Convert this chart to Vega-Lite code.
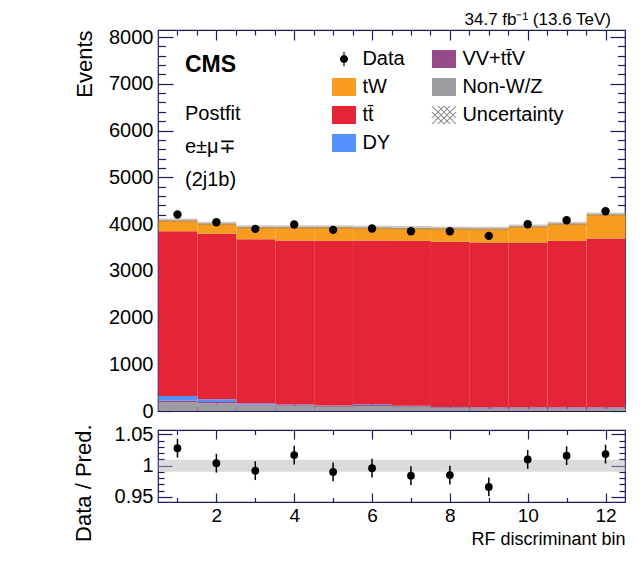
{
  "$schema": "https://vega.github.io/schema/vega-lite/v6.json",
  "background": "white",
  "padding": {"left": 71, "top": 10, "right": 10, "bottom": 5},
  "autosize": {"type": "pad"},
  "config": {
    "font": "Liberation Sans",
    "view": {"stroke": "#1a1a66", "strokeWidth": 1.2},
    "axis": {"grid": false, "domain": false, "ticks": true, "tickColor": "#1a1a66", "tickWidth": 1.2, "labelColor": "black", "titleColor": "black", "titleFontWeight": "normal", "labelFlush": false, "labelOverlap": false, "zindex": 1, "labelFont": "Liberation Sans", "titleFont": "Liberation Sans"}
  },
  "datasets": {
    "stack": [
      {"bin": 1, "proc": "Non-W/Z", "k": 1, "v": 195}, {"bin": 1, "proc": "VV+tt\u0304V", "k": 2, "v": 30}, {"bin": 1, "proc": "DY", "k": 3, "v": 95}, {"bin": 1, "proc": "tt\u0304", "k": 4, "v": 3526}, {"bin": 1, "proc": "tW", "k": 5, "v": 235},
      {"bin": 2, "proc": "Non-W/Z", "k": 1, "v": 165}, {"bin": 2, "proc": "VV+tt\u0304V", "k": 2, "v": 25}, {"bin": 2, "proc": "DY", "k": 3, "v": 60}, {"bin": 2, "proc": "tt\u0304", "k": 4, "v": 3539}, {"bin": 2, "proc": "tW", "k": 5, "v": 221},
      {"bin": 3, "proc": "Non-W/Z", "k": 1, "v": 120}, {"bin": 3, "proc": "VV+tt\u0304V", "k": 2, "v": 20}, {"bin": 3, "proc": "DY", "k": 3, "v": 25}, {"bin": 3, "proc": "tt\u0304", "k": 4, "v": 3510}, {"bin": 3, "proc": "tW", "k": 5, "v": 260},
      {"bin": 4, "proc": "Non-W/Z", "k": 1, "v": 107}, {"bin": 4, "proc": "VV+tt\u0304V", "k": 2, "v": 18}, {"bin": 4, "proc": "DY", "k": 3, "v": 15}, {"bin": 4, "proc": "tt\u0304", "k": 4, "v": 3507}, {"bin": 4, "proc": "tW", "k": 5, "v": 288},
      {"bin": 5, "proc": "Non-W/Z", "k": 1, "v": 90}, {"bin": 5, "proc": "VV+tt\u0304V", "k": 2, "v": 15}, {"bin": 5, "proc": "DY", "k": 3, "v": 12}, {"bin": 5, "proc": "tt\u0304", "k": 4, "v": 3523}, {"bin": 5, "proc": "tW", "k": 5, "v": 295},
      {"bin": 6, "proc": "Non-W/Z", "k": 1, "v": 107}, {"bin": 6, "proc": "VV+tt\u0304V", "k": 2, "v": 20}, {"bin": 6, "proc": "DY", "k": 3, "v": 16}, {"bin": 6, "proc": "tt\u0304", "k": 4, "v": 3504}, {"bin": 6, "proc": "tW", "k": 5, "v": 278},
      {"bin": 7, "proc": "Non-W/Z", "k": 1, "v": 85}, {"bin": 7, "proc": "VV+tt\u0304V", "k": 2, "v": 18}, {"bin": 7, "proc": "DY", "k": 3, "v": 10}, {"bin": 7, "proc": "tt\u0304", "k": 4, "v": 3527}, {"bin": 7, "proc": "tW", "k": 5, "v": 277},
      {"bin": 8, "proc": "Non-W/Z", "k": 1, "v": 64}, {"bin": 8, "proc": "VV+tt\u0304V", "k": 2, "v": 16}, {"bin": 8, "proc": "DY", "k": 3, "v": 7}, {"bin": 8, "proc": "tt\u0304", "k": 4, "v": 3531}, {"bin": 8, "proc": "tW", "k": 5, "v": 292},
      {"bin": 9, "proc": "Non-W/Z", "k": 1, "v": 55}, {"bin": 9, "proc": "VV+tt\u0304V", "k": 2, "v": 20}, {"bin": 9, "proc": "DY", "k": 3, "v": 5}, {"bin": 9, "proc": "tt\u0304", "k": 4, "v": 3524}, {"bin": 9, "proc": "tW", "k": 5, "v": 299},
      {"bin": 10, "proc": "Non-W/Z", "k": 1, "v": 55}, {"bin": 10, "proc": "VV+tt\u0304V", "k": 2, "v": 20}, {"bin": 10, "proc": "DY", "k": 3, "v": 5}, {"bin": 10, "proc": "tt\u0304", "k": 4, "v": 3524}, {"bin": 10, "proc": "tW", "k": 5, "v": 349},
      {"bin": 11, "proc": "Non-W/Z", "k": 1, "v": 55}, {"bin": 11, "proc": "VV+tt\u0304V", "k": 2, "v": 20}, {"bin": 11, "proc": "DY", "k": 3, "v": 5}, {"bin": 11, "proc": "tt\u0304", "k": 4, "v": 3560}, {"bin": 11, "proc": "tW", "k": 5, "v": 370},
      {"bin": 12, "proc": "Non-W/Z", "k": 1, "v": 55}, {"bin": 12, "proc": "VV+tt\u0304V", "k": 2, "v": 22}, {"bin": 12, "proc": "DY", "k": 3, "v": 5}, {"bin": 12, "proc": "tt\u0304", "k": 4, "v": 3607}, {"bin": 12, "proc": "tW", "k": 5, "v": 520}
    ],
    "bins": [
      {"bin": 1, "n": 4203, "nlo": 4138, "nhi": 4268, "plo": 4043, "phi": 4119, "r": 1.028, "rlo": 1.013, "rhi": 1.043, "ulo": 0.9905, "uhi": 1.0095},
      {"bin": 2, "n": 4038, "nlo": 3974, "nhi": 4102, "plo": 3972, "phi": 4048, "r": 1.004, "rlo": 0.989, "rhi": 1.019, "ulo": 0.9905, "uhi": 1.0095},
      {"bin": 3, "n": 3896, "nlo": 3834, "nhi": 3958, "plo": 3897, "phi": 3973, "r": 0.992, "rlo": 0.977, "rhi": 1.007, "ulo": 0.9905, "uhi": 1.0095},
      {"bin": 4, "n": 3989, "nlo": 3926, "nhi": 4052, "plo": 3897, "phi": 3973, "r": 1.017, "rlo": 1.002, "rhi": 1.032, "ulo": 0.9905, "uhi": 1.0095},
      {"bin": 5, "n": 3875, "nlo": 3813, "nhi": 3937, "plo": 3897, "phi": 3973, "r": 0.990, "rlo": 0.975, "rhi": 1.005, "ulo": 0.9905, "uhi": 1.0095},
      {"bin": 6, "n": 3903, "nlo": 3841, "nhi": 3965, "plo": 3887, "phi": 3963, "r": 0.996, "rlo": 0.981, "rhi": 1.011, "ulo": 0.9905, "uhi": 1.0095},
      {"bin": 7, "n": 3846, "nlo": 3784, "nhi": 3908, "plo": 3879, "phi": 3955, "r": 0.984, "rlo": 0.969, "rhi": 0.999, "ulo": 0.9905, "uhi": 1.0095},
      {"bin": 8, "n": 3846, "nlo": 3784, "nhi": 3908, "plo": 3872, "phi": 3948, "r": 0.985, "rlo": 0.970, "rhi": 1.000, "ulo": 0.9905, "uhi": 1.0095},
      {"bin": 9, "n": 3746, "nlo": 3685, "nhi": 3807, "plo": 3865, "phi": 3941, "r": 0.966, "rlo": 0.951, "rhi": 0.981, "ulo": 0.9905, "uhi": 1.0095},
      {"bin": 10, "n": 3996, "nlo": 3933, "nhi": 4059, "plo": 3915, "phi": 3991, "r": 1.010, "rlo": 0.995, "rhi": 1.025, "ulo": 0.9905, "uhi": 1.0095},
      {"bin": 11, "n": 4081, "nlo": 4017, "nhi": 4145, "plo": 3972, "phi": 4048, "r": 1.016, "rlo": 1.001, "rhi": 1.031, "ulo": 0.9905, "uhi": 1.0095},
      {"bin": 12, "n": 4274, "nlo": 4209, "nhi": 4339, "plo": 4171, "phi": 4247, "r": 1.0185, "rlo": 1.0035, "rhi": 1.0335, "ulo": 0.9905, "uhi": 1.0095}
    ]
  },
  "title": {
    "text": "CMS",
    "subtitle": ["Postfit", "\u2002e\u00b1\u03bc\u2213", "(2j1b)"],
    "anchor": "start", "frame": "group", "orient": "top",
    "offset": -180, "dx": 27, "zindex": 1,
    "fontSize": 23, "fontWeight": "bold", "color": "black", "font": "Liberation Sans",
    "subtitleFontSize": 20, "subtitleColor": "black", "subtitleFont": "Liberation Sans",
    "subtitlePadding": 27, "subtitleLineHeight": 33
  },
  "bounds": "flush",
  "spacing": 19,
  "resolve": {"legend": {"color": "independent", "shape": "independent", "fill": "independent"}, "scale": {"color": "independent", "shape": "independent", "fill": "independent"}},
  "vconcat": [
    {
      "width": 467,
      "height": 381,
      "view": {"stroke": "#1a1a66", "strokeWidth": 1.2},
      "title": {"text": "34.7 fb\u207b\u00b9 (13.6 TeV)", "anchor": "end", "frame": "group", "offset": -2, "dx": -14, "fontSize": 17, "fontWeight": "normal", "color": "black", "font": "Liberation Sans"},
      "resolve": {"axis": {"x": "independent", "y": "independent"}},
      "layer": [
        {
          "data": {"name": "stack"},
          "mark": {"type": "bar", "binSpacing": 0},
          "encoding": {
            "x": {"field": "bin", "type": "quantitative", "bin": {"extent": [0.5, 12.5], "step": 1, "nice": false}, "scale": {"domain": [0.5, 12.5], "nice": false, "zero": false}, "axis": null},
            "y": {"field": "v", "type": "quantitative", "stack": "zero", "scale": {"domain": [0, 8150], "nice": false}, "axis": null},
            "fill": {
              "field": "proc", "type": "nominal",
              "scale": {"domain": ["VV+tt\u0304V", "tW", "Non-W/Z", "tt\u0304", "DY"], "range": ["#964a8b", "#f89c20", "#9c9ca1", "#e42536", "#5790fc"]},
              "legend": null
            },
            "order": {"field": "k", "type": "quantitative"}
          }
        },
        {
          "data": {"name": "stack"},
          "transform": [{"filter": "datum.bin < 0"}],
          "mark": {"type": "point", "filled": true, "opacity": 1},
          "encoding": {
            "x": {"field": "bin", "type": "quantitative", "scale": {"domain": [0.5, 12.5], "nice": false, "zero": false}, "axis": null},
            "y": {"field": "v", "type": "quantitative", "axis": null},
            "color": {
              "field": "proc", "type": "nominal",
              "scale": {"domain": ["Data", "VV+tt\u0304V", "tW", "Non-W/Z", "tt\u0304", "Uncertainty", "DY"], "range": ["#000000", "#964a8b", "#f89c20", "#9c9ca1", "#e42536", "#8c8c8c", "#5790fc"]},
              "legend": {
                "orient": "none", "legendX": 176, "legendY": 19, "title": null,
                "columns": 2, "direction": "horizontal", "gridAlign": "each",
                "columnPadding": 26, "rowPadding": 8, "padding": 0,
                "symbolSize": 324, "symbolStrokeWidth": 0, "symbolOpacity": 1,
                "labelFontSize": 20, "labelFont": "Liberation Sans", "labelColor": "black", "labelOffset": 8.4, "labelLimit": 300
              }
            },
            "shape": {
              "field": "proc", "type": "nominal",
              "scale": {"domain": ["Data", "VV+tt\u0304V", "tW", "Non-W/Z", "tt\u0304", "Uncertainty", "DY"], "range": [
                "M-0.45,0A0.45,0.45,0,1,1,0.45,0A0.45,0.45,0,1,1,-0.45,0ZM-0.06,-0.8L0.06,-0.8L0.06,0.8L-0.06,0.8Z",
                "M-1.33,-1L1.33,-1L1.33,1L-1.33,1Z",
                "M-1.33,-1L1.33,-1L1.33,1L-1.33,1Z",
                "M-1.33,-1L1.33,-1L1.33,1L-1.33,1Z",
                "M-1.33,-1L1.33,-1L1.33,1L-1.33,1Z",
                "M-1.41,-0.33L-1.25,-0.33L0.08,1L-0.08,1ZM-1.41,-1L-1.25,-1L0.75,1L0.59,1ZM-0.75,-1L-0.59,-1L1.41,1L1.25,1ZM-0.08,-1L0.08,-1L1.41,0.33L1.25,0.33ZM1.25,-0.33L1.41,-0.33L0.08,1L-0.08,1ZM1.25,-1L1.41,-1L-0.59,1L-0.75,1ZM0.59,-1L0.75,-1L-1.25,1L-1.41,1ZM-0.08,-1L0.08,-1L-1.25,0.33L-1.41,0.33Z",
                "M-1.33,-1L1.33,-1L1.33,1L-1.33,1Z"
              ]},
              "legend": {
                "orient": "none", "legendX": 176, "legendY": 19, "title": null,
                "columns": 2, "direction": "horizontal", "gridAlign": "each",
                "columnPadding": 26, "rowPadding": 8, "padding": 0,
                "symbolSize": 324, "symbolStrokeWidth": 0, "symbolOpacity": 1,
                "labelFontSize": 20, "labelFont": "Liberation Sans", "labelColor": "black", "labelOffset": 8.4, "labelLimit": 300
              }
            }
          }
        },
        {
          "data": {"name": "bins"},
          "mark": {"type": "rect", "fill": "#8a8a8a", "opacity": 0.45},
          "encoding": {
            "x": {"field": "bin", "type": "quantitative", "bin": {"extent": [0.5, 12.5], "step": 1, "nice": false}, "scale": {"domain": [0.5, 12.5], "nice": false, "zero": false}, "axis": null},
            "y": {"field": "plo", "type": "quantitative", "axis": null},
            "y2": {"field": "phi"}
          }
        },
        {
          "data": {"name": "bins"},
          "mark": {"type": "rule", "strokeWidth": 1.5, "color": "black"},
          "encoding": {
            "x": {"field": "bin", "type": "quantitative", "scale": {"domain": [0.5, 12.5], "nice": false, "zero": false},
              "axis": {"orient": "top", "values": [1, 1.5, 2, 2.5, 3, 3.5, 4, 4.5, 5, 5.5, 6, 6.5, 7, 7.5, 8, 8.5, 9, 9.5, 10, 10.5, 11, 11.5, 12], "tickSize": {"condition": {"test": "datum.value % 2 === 0", "value": -10}, "value": -5}, "labels": false, "title": null}},
            "y": {"field": "nlo", "type": "quantitative",
              "axis": {"orient": "right", "values": [0, 200, 400, 600, 800, 1000, 1200, 1400, 1600, 1800, 2000, 2200, 2400, 2600, 2800, 3000, 3200, 3400, 3600, 3800, 4000, 4200, 4400, 4600, 4800, 5000, 5200, 5400, 5600, 5800, 6000, 6200, 6400, 6600, 6800, 7000, 7200, 7400, 7600, 7800, 8000], "tickSize": {"condition": {"test": "datum.value % 1000 === 0", "value": -15}, "value": -7.5}, "labels": false, "title": null}},
            "y2": {"field": "nhi"}
          }
        },
        {
          "data": {"name": "bins"},
          "mark": {"type": "point", "filled": true, "shape": "circle", "size": 70, "color": "black", "opacity": 1},
          "encoding": {
            "x": {"field": "bin", "type": "quantitative", "scale": {"domain": [0.5, 12.5], "nice": false, "zero": false},
              "axis": {"orient": "bottom", "values": [1, 1.5, 2, 2.5, 3, 3.5, 4, 4.5, 5, 5.5, 6, 6.5, 7, 7.5, 8, 8.5, 9, 9.5, 10, 10.5, 11, 11.5, 12], "tickSize": {"condition": {"test": "datum.value % 2 === 0", "value": -10}, "value": -5}, "labels": false, "title": null}},
            "y": {"field": "n", "type": "quantitative",
              "axis": {"orient": "left", "values": [0, 200, 400, 600, 800, 1000, 1200, 1400, 1600, 1800, 2000, 2200, 2400, 2600, 2800, 3000, 3200, 3400, 3600, 3800, 4000, 4200, 4400, 4600, 4800, 5000, 5200, 5400, 5600, 5800, 6000, 6200, 6400, 6600, 6800, 7000, 7200, 7400, 7600, 7800, 8000], "tickSize": {"condition": {"test": "datum.value % 1000 === 0", "value": -15}, "value": -7.5}, "format": "d", "labelExpr": "datum.value % 1000 === 0 ? datum.label : ''", "labelFontSize": 20, "labelPadding": 20, "title": "Events", "titleFontSize": 22, "titleAnchor": "end", "titlePadding": 12}}
          }
        }
      ]
    },
    {
      "width": 467,
      "height": 72,
      "view": {"stroke": "#1a1a66", "strokeWidth": 1.2},
      "resolve": {"axis": {"x": "independent", "y": "independent"}},
      "layer": [
        {
          "data": {"name": "bins"},
          "mark": {"type": "rect", "fill": "#b8b8b8", "opacity": 0.5},
          "encoding": {
            "x": {"field": "bin", "type": "quantitative", "bin": {"extent": [0.5, 12.5], "step": 1, "nice": false}, "scale": {"domain": [0.5, 12.5], "nice": false, "zero": false}, "axis": null},
            "y": {"field": "ulo", "type": "quantitative", "scale": {"domain": [0.942, 1.057], "nice": false, "zero": false}, "axis": null},
            "y2": {"field": "uhi"}
          }
        },
        {
          "data": {"name": "bins"},
          "mark": {"type": "rule", "strokeWidth": 1.5, "color": "black"},
          "encoding": {
            "x": {"field": "bin", "type": "quantitative", "scale": {"domain": [0.5, 12.5], "nice": false, "zero": false},
              "axis": {"orient": "top", "values": [1, 2, 3, 4, 5, 6, 7, 8, 9, 10, 11, 12], "tickSize": {"condition": {"test": "datum.value % 2 === 0", "value": -9}, "value": -4.5}, "labels": false, "title": null}},
            "y": {"field": "rlo", "type": "quantitative", "scale": {"domain": [0.942, 1.057], "nice": false, "zero": false},
              "axis": {"orient": "right", "values": [0.95, 0.96, 0.97, 0.98, 0.99, 1, 1.01, 1.02, 1.03, 1.04, 1.05], "tickSize": {"condition": {"test": "datum.value === 0.95 || datum.value === 1 || datum.value === 1.05", "value": -14}, "value": -6}, "labels": false, "title": null}},
            "y2": {"field": "rhi"}
          }
        },
        {
          "data": {"name": "bins"},
          "mark": {"type": "point", "filled": true, "shape": "circle", "size": 60, "color": "black", "opacity": 1},
          "encoding": {
            "x": {"field": "bin", "type": "quantitative", "scale": {"domain": [0.5, 12.5], "nice": false, "zero": false},
              "axis": {"orient": "bottom", "values": [1, 2, 3, 4, 5, 6, 7, 8, 9, 10, 11, 12], "tickSize": {"condition": {"test": "datum.value % 2 === 0", "value": -9}, "value": -4.5}, "format": "d", "labelExpr": "datum.value % 2 === 0 ? datum.label : ''", "labelFontSize": 19, "labelPadding": 13, "title": "RF discriminant bin", "titleFontSize": 18, "titleAnchor": "end", "titlePadding": 1}},
            "y": {"field": "r", "type": "quantitative", "scale": {"domain": [0.942, 1.057], "nice": false, "zero": false},
              "axis": {"orient": "left", "values": [0.95, 0.96, 0.97, 0.98, 0.99, 1, 1.01, 1.02, 1.03, 1.04, 1.05], "tickSize": {"condition": {"test": "datum.value === 0.95 || datum.value === 1 || datum.value === 1.05", "value": -14}, "value": -6}, "format": "~g", "labelExpr": "datum.value === 0.95 || datum.value === 1 || datum.value === 1.05 ? datum.label : ''", "labelFontSize": 20, "labelPadding": 19, "title": "Data / Pred.", "titleFontSize": 22, "titleAnchor": "end", "titleAlign": "right", "titleY": -6, "titlePadding": 19}}
          }
        }
      ]
    }
  ]
}
